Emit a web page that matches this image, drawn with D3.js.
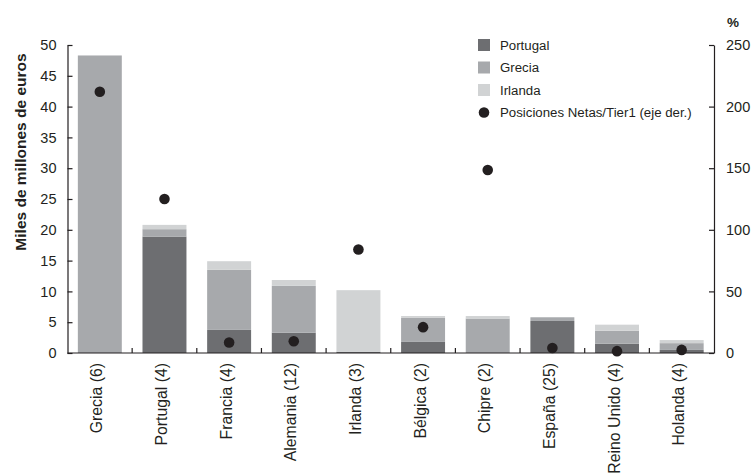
<!DOCTYPE html>
<html><head><meta charset="utf-8">
<script src="https://cdn.jsdelivr.net/npm/d3@7"></script>
<style>
body{margin:0;background:#fff;}
text{font-family:"Liberation Sans",Arial,sans-serif;fill:#231f20;}
</style></head>
<body><svg id="c" width="756" height="474"></svg>
<script>
const categories = ["Grecia (6)","Portugal (4)","Francia (4)","Alemania (12)","Irlanda (3)","Bélgica (2)","Chipre (2)","España (25)","Reino Unido (4)","Holanda (4)"];
const portugal = [0, 18.9, 3.75, 3.3, 0.2, 1.8, 0, 5.2, 1.5, 0.5];
const grecia   = [48.3, 1.2, 9.75, 7.6, 0, 3.9, 5.6, 0.6, 2.1, 1.1];
const irlanda  = [0, 0.7, 1.4, 0.95, 10.0, 0.3, 0.4, 0, 1.0, 0.5];
const posiciones = [212, 125, 8.5, 9.5, 84, 21, 148.5, 4, 1.5, 2.5];
const leftTicks = [0,5,10,15,20,25,30,35,40,45,50];
const rightTicks = [0,50,100,150,200,250];
const seriesNames = ["Portugal","Grecia","Irlanda"];
const dotName = "Posiciones Netas/Tier1 (eje der.)";
const colors = {Portugal:"#6d6e71", Grecia:"#a7a9ac", Irlanda:"#d1d3d4"};
const dark = "#231f20";

const svg = d3.select("#c");
const L = 67.5, R = 714, T = 45, B = 353;

const x = d3.scaleBand().domain(categories).range([L, R]).paddingInner(0.32).paddingOuter(0.16);
const y = d3.scaleLinear().domain([0, 50]).range([B, T]);
const y2 = d3.scaleLinear().domain([0, 250]).range([B, T]);

const rows = categories.map((c,i)=>({cat:c, Portugal:portugal[i], Grecia:grecia[i], Irlanda:irlanda[i], pos:posiciones[i]}));
const stacked = d3.stack().keys(seriesNames)(rows);

svg.append("g").selectAll("g").data(stacked).join("g")
  .attr("fill", d=>colors[d.key])
  .selectAll("rect").data(d=>d).join("rect")
  .attr("x", d=>x(d.data.cat))
  .attr("width", x.bandwidth())
  .attr("y", d=>y(d[1]))
  .attr("height", d=>Math.max(0, y(d[0]) - y(d[1])));

// axes
const ax = svg.append("g").attr("transform",`translate(${L},0)`)
  .call(d3.axisLeft(y).tickValues(leftTicks).tickSize(-5).tickSizeOuter(0).tickPadding(11));
const ax2 = svg.append("g").attr("transform",`translate(${R},0)`)
  .call(d3.axisRight(y2).tickValues(rightTicks).tickSize(-5).tickSizeOuter(0).tickPadding(12));
[ax, ax2].forEach(a=>{
  a.selectAll("path,line").attr("stroke", dark).attr("stroke-width",1.2);
  a.selectAll("text").attr("font-size","14.5px").attr("fill",dark).attr("font-family","Liberation Sans, Arial, sans-serif");
});

// bottom axis
const step = x.step();
const bx = svg.append("g");
bx.append("line").attr("x1",L).attr("x2",R).attr("y1",B).attr("y2",B).attr("stroke",dark).attr("stroke-width",1.2);
bx.selectAll("line.t").data(categories.slice(1)).join("line").attr("class","t")
  .attr("x1", d=>x(d) - step*x.paddingInner()/2).attr("x2", d=>x(d) - step*x.paddingInner()/2)
  .attr("y1",B).attr("y2",B-5).attr("stroke",dark).attr("stroke-width",1.2);
bx.selectAll("text").data(categories).join("text")
  .attr("transform", d=>`translate(${x(d)+x.bandwidth()/2+2.5},363) rotate(-90)`)
  .attr("text-anchor","end")
  .attr("font-size","15.8px")
  .text(d=>d);

// dots
svg.append("g").selectAll("circle").data(rows).join("circle")
  .attr("cx", d=>x(d.cat)+x.bandwidth()/2)
  .attr("cy", d=>y2(d.pos))
  .attr("r", 5.3)
  .attr("fill", dark);

// titles
svg.append("text").attr("transform","translate(25.5,152) rotate(-90)")
  .attr("text-anchor","middle").attr("font-weight","bold").attr("font-size","15.5px")
  .text("Miles de millones de euros");
svg.append("text").attr("x",733).attr("y",27).attr("text-anchor","middle")
  .attr("font-weight","bold").attr("font-size","13.5px").text("%");

// legend
const lg = svg.append("g");
const ly = [45, 67.5, 90, 112.5];
seriesNames.forEach((s,i)=>{
  lg.append("rect").attr("x",478).attr("y",ly[i]-6).attr("width",12).attr("height",12).attr("fill",colors[s]);
  lg.append("text").attr("x",500).attr("y",ly[i]).attr("dy","0.35em").attr("font-size","13.25px").text(s);
});
lg.append("circle").attr("cx",484).attr("cy",ly[3]).attr("r",5.3).attr("fill",dark);
lg.append("text").attr("x",500).attr("y",ly[3]).attr("dy","0.35em").attr("font-size","13.25px").text(dotName);
</script></body></html>
